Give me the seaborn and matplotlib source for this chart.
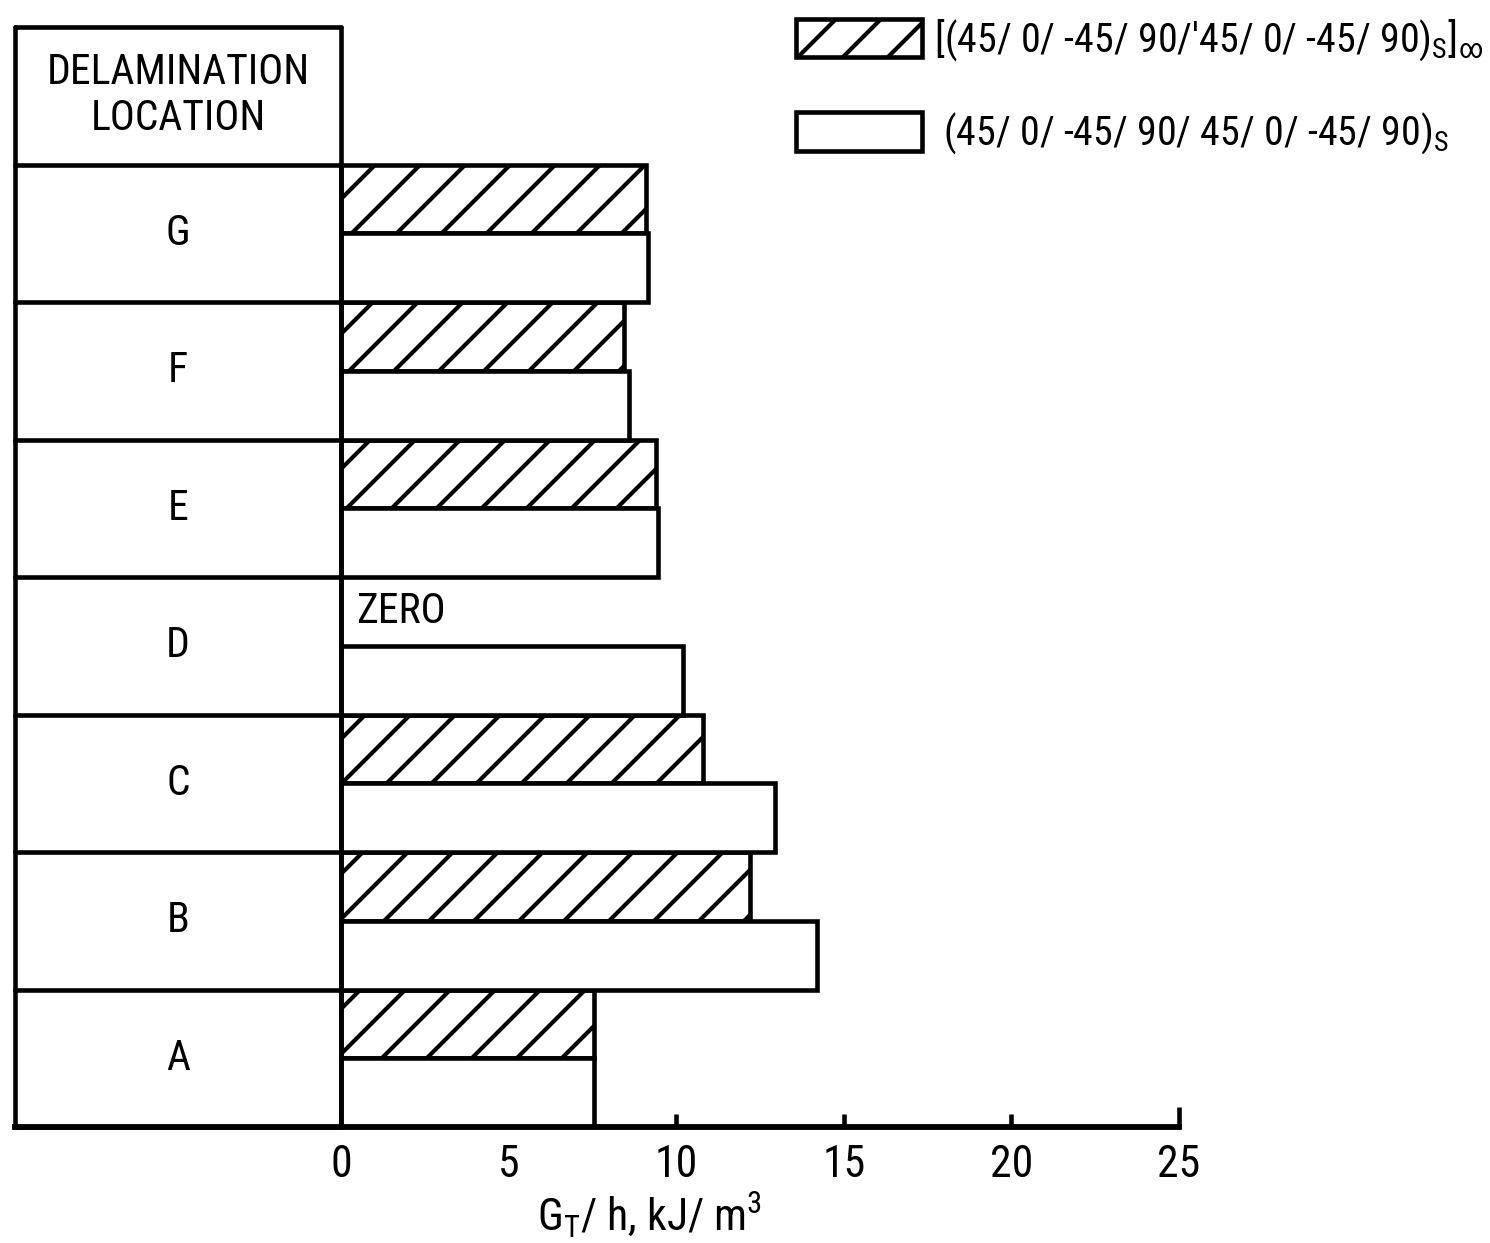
import matplotlib
matplotlib.use("Agg")
import matplotlib.pyplot as plt
import matplotlib.patches as mpatches
import seaborn as sns
import pandas as pd
import numpy as np

# render dpi chosen so that the "/" hatch spacing is close to the original;
# S converts sizes tuned at 300 dpi
DPI = 135
S = 300 / DPI

sns.set_style("white")
plt.rcParams["font.family"] = [
    "Liberation Sans Narrow",
    "DejaVu Sans Condensed",
    "Roboto Condensed",
    "Open Sans Condensed",
    "DejaVu Sans",
]
plt.rcParams["font.stretch"] = "condensed"
plt.rcParams["mathtext.default"] = "regular"
plt.rcParams["hatch.linewidth"] = 1.0 * S
plt.rcParams["text.color"] = "black"
plt.rcParams["axes.labelcolor"] = "black"
plt.rcParams["xtick.color"] = "black"

# values (G_T/h, kJ/m^3)
locations = ["G", "F", "E", "D", "C", "B", "A"]
hatched_vals = [9.1, 8.45, 9.4, 0.0, 10.8, 12.2, 7.55]
open_vals = [9.15, 8.6, 9.45, 10.2, 12.95, 14.2, 7.55]
layups = [
    r"[(45/ 0/ -45/ 90/'45/ 0/ -45/ 90)$_S$]$_\infty$",
    r" (45/ 0/ -45/ 90/ 45/ 0/ -45/ 90)$_S$",
]
xticks = [0, 5, 10, 15, 20, 25]

df = pd.DataFrame(
    {
        "location": locations * 2,
        "gt_h": hatched_vals + open_vals,
        "layup": [layups[0]] * len(locations) + [layups[1]] * len(locations),
    }
)

fig = plt.figure(figsize=(1490 / DPI, 1243 / DPI), dpi=DPI)
ax = fig.add_axes([15 / 1490, 116 / 1243, 1164 / 1490, 1100 / 1243])

lw = 1.1 * S
sns.barplot(
    data=df,
    x="gt_h",
    y="location",
    hue="layup",
    order=locations,
    hue_order=layups,
    orient="h",
    width=1.0,
    palette=["white", "white"],
    saturation=1,
    edgecolor="black",
    linewidth=lw,
    errorbar=None,
    legend=False,
    ax=ax,
)
for bar in ax.containers[0]:
    bar.set_hatch("/")

x_left = -9.725
ax.set_xlim(x_left, 25)
ax.set_ylim(len(locations) - 0.5, -1.5)

# table on the left
for yb in np.arange(-1.5, len(locations), 1.0):
    ax.plot([x_left, 0], [yb, yb], color="black", lw=lw, clip_on=False)
ax.plot([x_left, x_left], [-1.5, len(locations) - 0.5], color="black", lw=lw, clip_on=False)
ax.plot([0, 0], [-1.5, len(locations) - 0.5], color="black", lw=lw, clip_on=False)

ax.text(x_left / 2, -1.0, "DELAMINATION\nLOCATION", ha="center", va="center",
        fontsize=10 * S, linespacing=1.15)
for i, loc in enumerate(locations):
    ax.text(x_left / 2, i, loc, ha="center", va="center", fontsize=10 * S)
    if hatched_vals[i] == 0:
        ax.text(0.45, i - 0.25, "ZERO", ha="left", va="center", fontsize=10 * S)

# axis
for side in ["top", "right", "left"]:
    ax.spines[side].set_visible(False)
ax.spines["bottom"].set_linewidth(1.4 * S)
ax.spines["bottom"].set_color("black")
ax.set_yticks([])
ax.set_ylabel("")
ax.set_xticks(xticks)
ax.tick_params(axis="x", bottom=True, direction="in", length=3.2 * S, width=1.1 * S,
               pad=4 * S, labelsize=10.5 * S)
# end tick is drawn longer in the original
ax.xaxis.get_major_ticks()[-1].tick1line.set_markersize(4.8 * S)
ax.set_xlabel(r"G$_T$/ h, kJ/ m$^3$", fontsize=10.5 * S, x=0.545, labelpad=1 * S)

handles = [
    mpatches.Patch(facecolor="white", edgecolor="black", hatch="/", linewidth=lw),
    mpatches.Patch(facecolor="white", edgecolor="black", linewidth=lw),
]
fig.legend(
    handles,
    layups,
    loc="upper left",
    bbox_to_anchor=(772 / 1490, 1 + 8 / 1243),
    frameon=False,
    fontsize=9.6 * S,
    handlelength=3.15,
    handleheight=1.1,
    handletextpad=0.3,
    labelspacing=1.2,
    borderpad=0.1,
)

fig.savefig("out.png", dpi=DPI, facecolor="white")
